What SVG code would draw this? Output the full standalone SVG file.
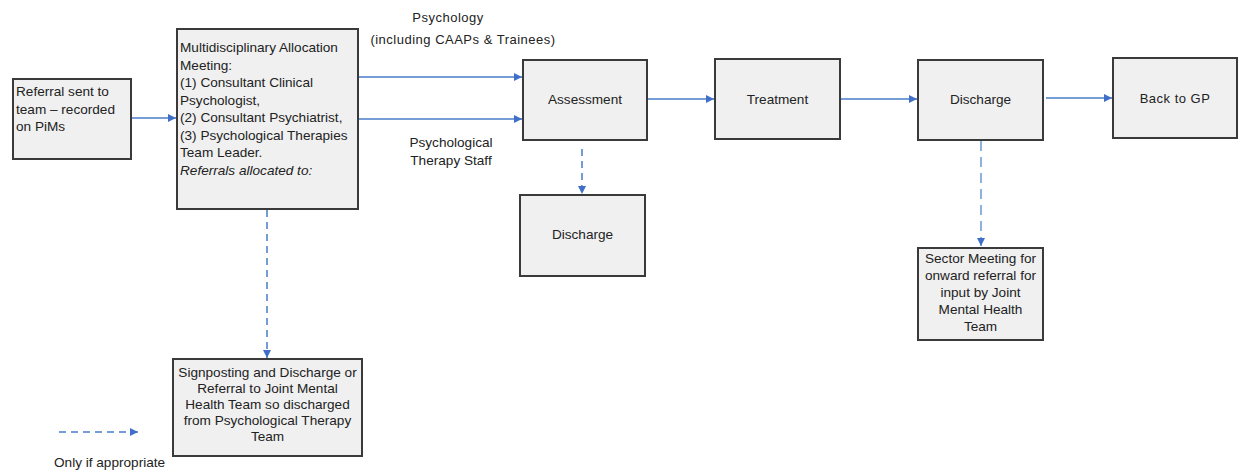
<svg xmlns="http://www.w3.org/2000/svg" width="1238" height="470" viewBox="0 0 1238 470">
<defs>
<marker id="ah" viewBox="0 0 10 10" refX="10" refY="5" markerWidth="8" markerHeight="8" markerUnits="userSpaceOnUse" orient="auto">
<path d="M0,0 L10,5 L0,10 z" fill="#3F6FC6"/>
</marker>
<style>
.box{fill:#F0F0F0;stroke:#3A3A3A;stroke-width:2}
text{font-family:"Liberation Sans",Arial,sans-serif;font-size:13.6px;fill:#222}
.c{text-anchor:middle}
.w{letter-spacing:0.5px;font-size:13px}
.ln{stroke:#4A7CC9;stroke-width:1.5;fill:none}
.d{stroke-dasharray:7 5}
.dl{stroke:#8FB0E0;stroke-width:2;stroke-dasharray:10 6}
</style>
</defs>
<g id="connectors">
<line class="ln" x1="131" y1="118" x2="176" y2="118" marker-end="url(#ah)"/>
<line class="ln" x1="358" y1="77" x2="522" y2="77" marker-end="url(#ah)"/>
<line class="ln" x1="358" y1="119" x2="522" y2="119" marker-end="url(#ah)"/>
<line class="ln" x1="647" y1="99" x2="714" y2="99" marker-end="url(#ah)"/>
<line class="ln" x1="840" y1="99" x2="917" y2="99" marker-end="url(#ah)"/>
<line class="ln" x1="1046" y1="98" x2="1112" y2="98" marker-end="url(#ah)"/>
<line class="ln d" x1="582" y1="149" x2="582" y2="194" marker-end="url(#ah)"/>
<line class="ln d" x1="267" y1="210" x2="267" y2="358" marker-end="url(#ah)"/>
<line class="ln dl" x1="981" y1="141" x2="981" y2="246" marker-end="url(#ah)"/>
<line class="ln d" x1="59" y1="432" x2="138" y2="432" marker-end="url(#ah)"/>
</g>
<g id="labels">
<text class="c w" x="448" y="21.5">Psychology</text>
<text class="c w" x="463" y="43.5">(including CAAPs &amp; Trainees)</text>
<text class="c" x="451" y="147">Psychological</text>
<text class="c" x="451" y="164.5">Therapy Staff</text>
<text x="54" y="467">Only if appropriate</text>
</g>
<g id="referral">
<rect class="box" x="13" y="79" width="118" height="80"/>
<text x="16" y="96">Referral sent to</text>
<text x="16" y="113.5">team – recorded</text>
<text x="16" y="131">on PiMs</text>
</g>
<g id="mdt">
<rect class="box" x="177" y="29" width="181" height="180"/>
<text x="180" y="52">Multidisciplinary Allocation</text>
<text x="180" y="69.5">Meeting:</text>
<text x="180" y="87">(1) Consultant Clinical</text>
<text x="180" y="104.5">Psychologist,</text>
<text x="180" y="122">(2) Consultant Psychiatrist,</text>
<text x="180" y="139.5">(3) Psychological Therapies</text>
<text x="180" y="157">Team Leader.</text>
<text x="180" y="174.5" font-style="italic">Referrals allocated to:</text>
</g>
<g id="assessment">
<rect class="box" x="523" y="60" width="124" height="80"/>
<text class="c" x="585" y="103.5">Assessment</text>
</g>
<g id="treatment">
<rect class="box" x="715" y="59" width="125" height="80"/>
<text class="c" x="777.5" y="103.5">Treatment</text>
</g>
<g id="discharge-right">
<rect class="box" x="918" y="60" width="125" height="80"/>
<text class="c" x="980.5" y="103.5">Discharge</text>
</g>
<g id="back-to-gp">
<rect class="box" x="1113" y="58" width="124" height="80"/>
<text class="c w" x="1175" y="102.5">Back to GP</text>
</g>
<g id="discharge-lower">
<rect class="box" x="520" y="195" width="125" height="81"/>
<text class="c" x="582.5" y="239">Discharge</text>
</g>
<g id="sector">
<rect class="box" x="918" y="248" width="125" height="92"/>
<text class="c" x="980.5" y="262.5">Sector Meeting for</text>
<text class="c" x="980.5" y="280">onward referral for</text>
<text class="c" x="980.5" y="297">input by Joint</text>
<text class="c" x="980.5" y="314">Mental Health</text>
<text class="c" x="980.5" y="331">Team</text>
</g>
<g id="signposting">
<rect class="box" x="173" y="359" width="189" height="97"/>
<text class="c" x="267.5" y="376.5">Signposting and Discharge or</text>
<text class="c" x="267.5" y="392.5">Referral to Joint Mental</text>
<text class="c" x="267.5" y="408.5">Health Team so discharged</text>
<text class="c" x="267.5" y="424.5">from Psychological Therapy</text>
<text class="c" x="267.5" y="440.5">Team</text>
</g>
</svg>
